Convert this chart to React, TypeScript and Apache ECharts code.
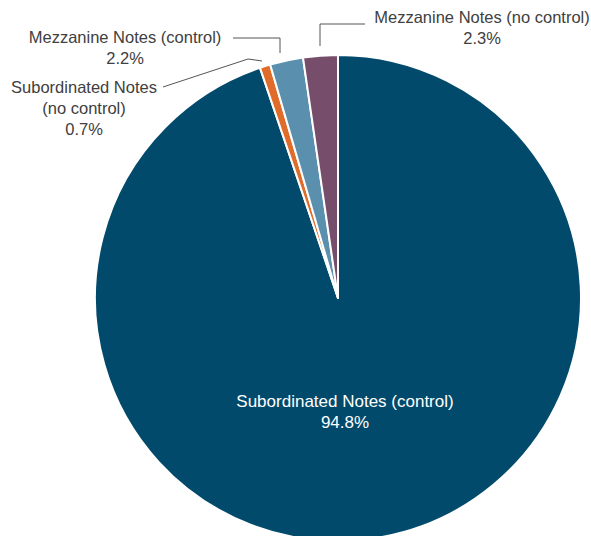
import React, { useEffect, useRef } from "react";
import * as echarts from "echarts";

const categories = [
  "Subordinated Notes (control)",
  "Subordinated Notes\n(no control)",
  "Mezzanine Notes (control)",
  "Mezzanine Notes (no control)",
];
const values = [94.8, 0.7, 2.2, 2.3];
const colors = ["#024a6b", "#e06c2c", "#5a8fae", "#774d6c"];

const labelPos: { x: number; y: number; pts: number[][] | null }[] = [
  { x: 345, y: 412, pts: null },
  { x: 84, y: 108, pts: [[262, 61], [248, 59], [163, 87]] },
  { x: 125, y: 47, pts: [[280, 53], [280, 38], [233, 38]] },
  { x: 482, y: 27, pts: [[320, 46], [320, 24], [365, 24]] },
];

export default function App() {
  const ref = useRef<HTMLDivElement>(null);
  useEffect(() => {
    if (!ref.current) return;
    const chart = echarts.init(ref.current, null, { renderer: "svg" });
    chart.setOption({
      animation: false,
      backgroundColor: "#ffffff",
      series: [
        {
          type: "pie",
          center: [338, 298],
          radius: [0, 243],
          startAngle: 90,
          clockwise: true,
          avoidLabelOverlap: false,
          itemStyle: { borderColor: "#ffffff", borderWidth: 2 },
          label: {
            fontFamily: "Liberation Sans, Arial, sans-serif",
            fontSize: 16.5,
            lineHeight: 21,
            color: "#404040",
            align: "center",
            overflow: "none",
            formatter: (p: any) => `${p.name}\n${p.value.toFixed(1)}%`,
          },
          labelLine: {
            show: true,
            lineStyle: { color: "#555555", width: 1 },
          },
          labelLayout: (p: any) => {
            const lp = labelPos[p.dataIndex];
            const r: any = {
              x: lp.x,
              y: lp.y,
              align: "center",
              verticalAlign: "middle",
            };
            if (lp.pts) r.labelLinePoints = lp.pts;
            return r;
          },
          data: categories.map((name, i) => ({
            name,
            value: values[i],
            itemStyle: { color: colors[i] },
            label:
              i === 0
                ? { position: "inside", color: "#ffffff", fontSize: 17 }
                : { position: "outside" },
            labelLine: { show: i !== 0 },
          })),
        },
      ],
    });
    return () => chart.dispose();
  }, []);
  return (
    <div
      ref={ref}
      style={{ position: "fixed", left: 0, top: 0, width: 591, height: 536 }}
    />
  );
}
